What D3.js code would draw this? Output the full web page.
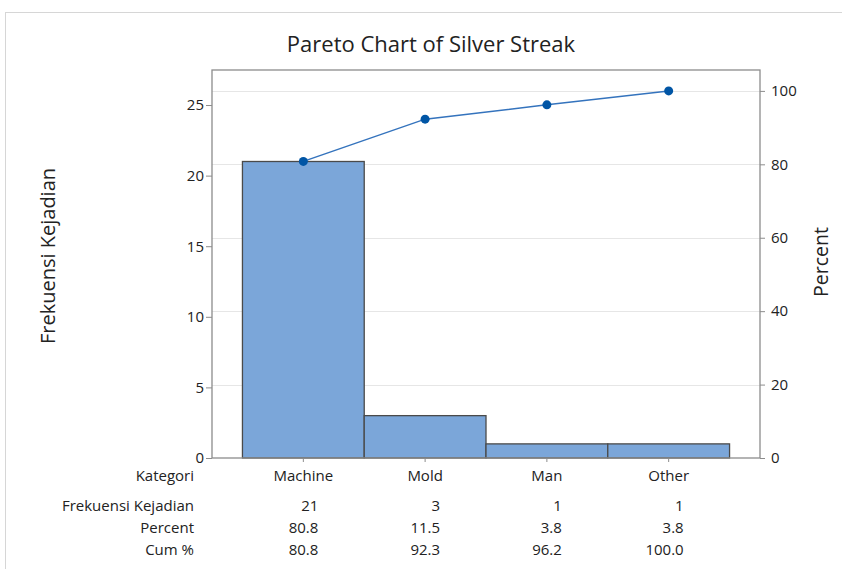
<!DOCTYPE html>
<html>
<head>
<meta charset="utf-8">
<script src="https://cdn.jsdelivr.net/npm/d3@7"></script>
<style>
  html, body { margin: 0; padding: 0; background: #fff; }
  svg { display: block; }
  text { font-family: "Open Sans", "Noto Sans", sans-serif; fill: #222; }
</style>
</head>
<body>
<svg id="chart" width="842" height="569"></svg>
<script>
// ---- data ----
const categories = ["Machine", "Mold", "Man", "Other"];
const counts = [21, 3, 1, 1];
const percents = [80.8, 11.5, 3.8, 3.8];
const cumPercents = [80.8, 92.3, 96.2, 100.0];
const countLabels = ["21", "3", "1", "1"];
const percentLabels = ["80.8", "11.5", "3.8", "3.8"];
const cumLabels = ["80.8", "92.3", "96.2", "100.0"];
const leftTicks = [0, 5, 10, 15, 20, 25];
const rightTicks = [0, 20, 40, 60, 80, 100];
const rowLabels = ["Frekuensi Kejadian", "Percent", "Cum %"];
const total = 26;
const countMax = 27.48;

const svg = d3.select("#chart");
const plot = { left: 212, right: 760, top: 70, bottom: 458 };
const small = "15px";

// outer frame
svg.append("rect").attr("x", 5.5).attr("y", 12.5).attr("width", 900).attr("height", 700)
  .attr("fill", "none").attr("stroke", "#d6d6d6").attr("stroke-width", 1);

const x = d3.scaleBand().domain(categories).range([plot.left, plot.right])
  .paddingInner(0).paddingOuter(0.25);
const y = d3.scaleLinear().domain([0, countMax]).range([plot.bottom, plot.top]);
const yp = d3.scaleLinear().domain([0, 100]).range([y(0), y(total)]);

// gridlines at percent ticks
svg.append("g").selectAll("line").data(rightTicks.filter(d => d > 0)).join("line")
  .attr("x1", plot.left).attr("x2", plot.right)
  .attr("y1", d => Math.round(yp(d)) + 0.5).attr("y2", d => Math.round(yp(d)) + 0.5)
  .attr("stroke", "#e6e6e6").attr("stroke-width", 1);

// bars
svg.append("g").selectAll("rect").data(categories).join("rect")
  .attr("x", d => x(d))
  .attr("y", (d, i) => y(counts[i]))
  .attr("width", x.bandwidth())
  .attr("height", (d, i) => y(0) - y(counts[i]))
  .attr("fill", "#7ba6d9")
  .attr("stroke", "#4a4a4a").attr("stroke-width", 1.3);

// plot frame
svg.append("rect").attr("x", plot.left).attr("y", plot.top)
  .attr("width", plot.right - plot.left).attr("height", plot.bottom - plot.top)
  .attr("fill", "none").attr("stroke", "#8c8c8c").attr("stroke-width", 1.3);

function styleTicks(g) {
  g.select(".domain").remove();
  g.selectAll(".tick line").attr("stroke", "#8c8c8c");
  g.selectAll(".tick text").style("font-size", small)
    .style("font-family", "'Open Sans', sans-serif").attr("fill", "#222");
}

// left axis
const leftAxis = d3.axisLeft(y).tickValues(leftTicks).tickSize(6).tickPadding(2).tickFormat(d3.format("d"));
svg.append("g").attr("transform", `translate(${plot.left},0)`).call(leftAxis).call(styleTicks);

// right axis
const rightAxis = d3.axisRight(yp).tickValues(rightTicks).tickSize(5).tickPadding(6).tickFormat(d3.format("d"));
svg.append("g").attr("transform", `translate(${plot.right},0)`).call(rightAxis).call(styleTicks);

// bottom ticks
const bottomAxis = d3.axisBottom(x).tickSize(4).tickPadding(8);
svg.append("g").attr("transform", `translate(0,${plot.bottom})`).call(bottomAxis).call(styleTicks);

// cumulative line
const line = d3.line().x((d, i) => x(categories[i]) + x.bandwidth() / 2).y(d => yp(d));
svg.append("path").datum(cumPercents).attr("d", line)
  .attr("fill", "none").attr("stroke", "#3473bd").attr("stroke-width", 1.5);
svg.append("g").selectAll("circle").data(cumPercents).join("circle")
  .attr("cx", (d, i) => x(categories[i]) + x.bandwidth() / 2)
  .attr("cy", d => yp(d)).attr("r", 4.5).attr("fill", "#0055a5");

// title
svg.append("text").attr("x", 431).attr("y", 52).attr("text-anchor", "middle")
  .style("font-size", "22px").text("Pareto Chart of Silver Streak");

// axis titles
svg.append("text").attr("transform", "translate(55,256) rotate(-90)").attr("text-anchor", "middle")
  .style("font-size", "20px").text("Frekuensi Kejadian");
svg.append("text").attr("transform", "translate(828,262) rotate(-90)").attr("text-anchor", "middle")
  .style("font-size", "19.5px").text("Percent");

// table
const labelX = 194;
svg.append("text").attr("x", labelX).attr("y", 481).attr("text-anchor", "end")
  .style("font-size", small).text("Kategori");
const rowY = [510.5, 532.5, 554.5];
const rows = [countLabels, percentLabels, cumLabels];
rowLabels.forEach((lab, r) => {
  svg.append("text").attr("x", labelX).attr("y", rowY[r]).attr("text-anchor", "end")
    .style("font-size", small).text(lab);
  svg.append("g").selectAll("text").data(rows[r]).join("text")
    .attr("x", (d, i) => x(categories[i]) + x.bandwidth() / 2 + 15)
    .attr("y", rowY[r]).attr("text-anchor", "end")
    .style("font-size", small).text(d => d);
});
</script>
</body>
</html>
